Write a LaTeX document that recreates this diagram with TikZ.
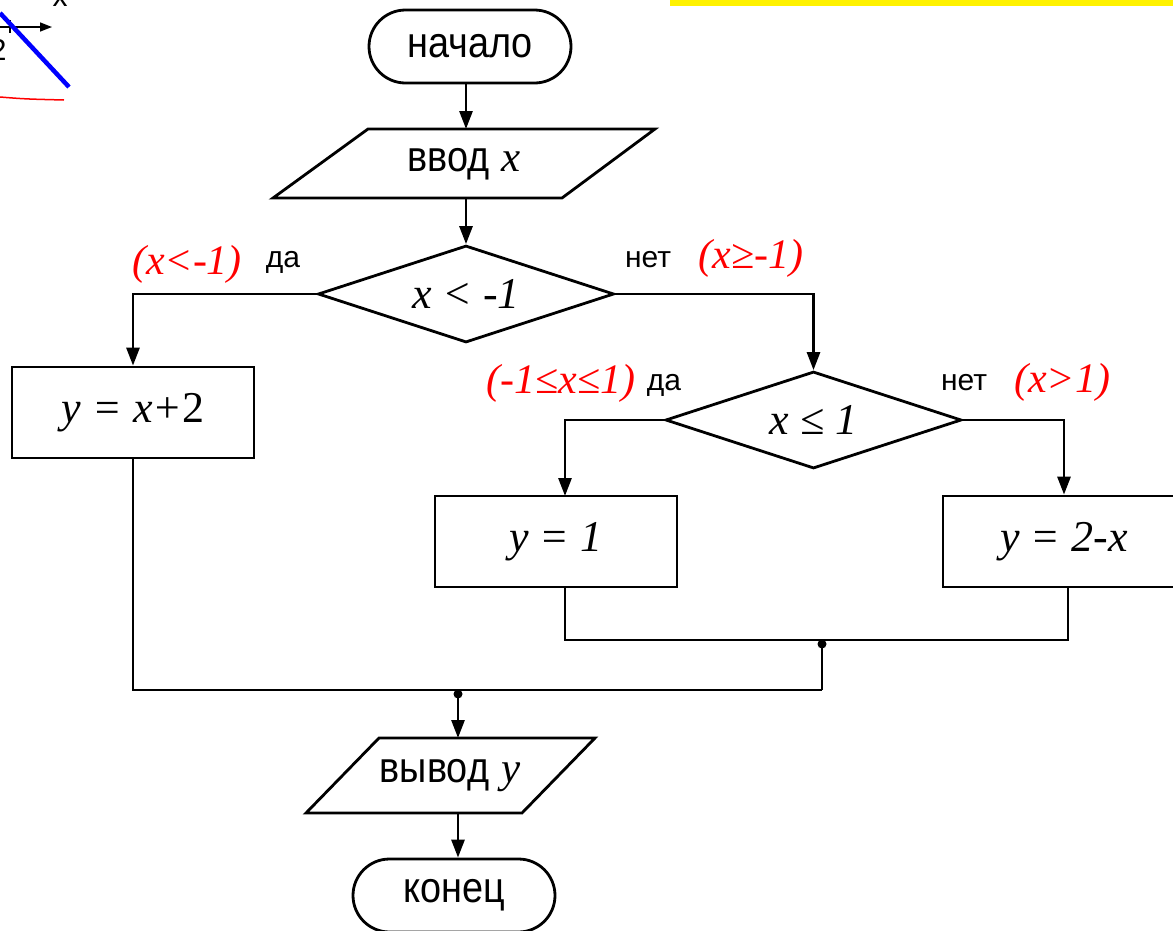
\documentclass[tikz,border=0pt]{standalone}
\usepackage{graphicx}
\usepackage{fontspec}
\setmainfont{Liberation Sans}
\newfontfamily\tms{Liberation Serif}
\usetikzlibrary{shapes.geometric,shapes.misc,arrows.meta}
\newcommand{\narrow}[1]{\scalebox{0.88}[1]{#1}}
\begin{document}
\begin{tikzpicture}[x=1pt,y=-1pt,
  line width=2.8pt,
  arr/.style={-{Triangle[length=18pt,width=13pt]}},
  term/.style={draw, rounded rectangle, minimum width=202pt, minimum height=73pt, inner sep=0pt, font=\fontsize{43}{50}\selectfont},
  proc/.style={draw, rectangle, minimum width=242pt, minimum height=91pt, inner sep=0pt, font=\fontsize{44}{52}\selectfont\tms\itshape},
  decis/.style={draw, diamond, aspect=3, minimum width=296pt, minimum height=97pt, inner sep=0pt, font=\fontsize{44}{52}\selectfont\tms\itshape},
  iotext/.style={inner sep=0pt, font=\fontsize{43}{50}\selectfont},
  lbl/.style={inner sep=0pt, font=\fontsize{30}{36}\selectfont},
  cond/.style={inner sep=0pt, text=red, font=\fontsize{42}{50}\selectfont\tms\itshape},
  jdot/.style={circle, fill, inner sep=0pt, minimum size=9pt}
]
\useasboundingbox (0,0) rectangle (1173,930);

% fragments at the edges
\fill[yellow] (670,0) rectangle (1173,6);
\draw[line width=1.5pt, -{Triangle[length=12pt,width=9pt]}] (0,27) -- (52,27);
\draw[line width=1.5pt] (10,20) -- (10,33);
\node[anchor=base, inner sep=0pt, font=\fontsize{30}{36}\selectfont] (fx) at (60,6) {x};
\node[anchor=base east, inner sep=0pt, font=\fontsize{30}{36}\selectfont] (f2) at (8,60) {2};
\draw[blue, line width=4.5pt] (0,13) -- (69,87);
\draw[red, line width=1.5pt] (0,97) .. controls (25,99) .. (64,100);

% nodes
\node[term] (start) at (470,46.5) {\narrow{начало}};
\coordinate (inTL) at (368,129);
\coordinate (inTR) at (655,129);
\coordinate (inBR) at (562,198);
\coordinate (inBL) at (273,198);
\coordinate (inTop) at (466,129);
\coordinate (inBot) at (466,198);
\draw[line join=miter] (inTL) -- (inTR) -- (inBR) -- (inBL) -- cycle;
\node[iotext] (in) at (464,164) {\narrow{ввод} {\tms\itshape x}};

\node[decis] (d1) at (466,294) {x < -1};
\node[proc] (b1) at (133,412.5) {y = x+\upshape 2};
\node[decis] (d2) at (813.5,420) {x ≤ 1};
\node[proc] (b2) at (556,541.5) {y = 1};
\node[proc] (b3) at (1064,541.5) {y = 2-x};

\coordinate (outTL) at (379,738);
\coordinate (outTR) at (595,738);
\coordinate (outBR) at (522,813);
\coordinate (outBL) at (306,813);
\coordinate (outTop) at (458,738);
\coordinate (outBot) at (458,813);
\draw[line join=miter] (outTL) -- (outTR) -- (outBR) -- (outBL) -- cycle;
\node[iotext] (out) at (450,776) {\narrow{вывод} {\tms\itshape y}};
\node[term] (end) at (454,895.5) {\narrow{конец}};

% labels
\node[cond] (c1) at (187,264) {(x<-1)};
\node[lbl] (l1) at (283,262) {да};
\node[lbl] (l2) at (648,260) {нет};
\node[cond] (c2) at (751,258) {(x≥-1)};
\node[cond] (c3) at (561,383) {(-1≤x≤1)};
\node[lbl] (l3) at (664,385) {да};
\node[lbl] (l4) at (964,383) {нет};
\node[cond] (c4) at (1062,382) {(x>1)};

% connectors
\draw[arr] (start.south -| inTop) -- (inTop);
\draw[arr] (inBot) -- (d1.north);
\draw[arr] (d1.west) -| (b1.north);
\draw[arr] (d1.east) -| (d2.north);
\coordinate (b2in) at (565,496);
\draw[arr] (d2.west) -| (b2in);
\draw[arr] (d2.east) -| (b3.north);

\coordinate (m1L) at (565,640);
\coordinate (m1R) at (1068,640);
\coordinate (J1) at (822,640);
\coordinate (m2R) at (822,690);
\coordinate (J2) at (458,690);
\draw[line join=miter] (b2.south -| m1L) -- (m1L) -- (m1R) -- (b3.south -| m1R);
\draw (J1) -- (m2R);
\draw[line join=miter] (b1.south) |- (m2R);
\draw[arr] (J2) -- (outTop);
\draw[arr] (outBot) -- (end.north -| outBot);
\node[jdot] (j1) at ([yshift=-4pt]J1) {};
\node[jdot] (j2) at ([yshift=-4pt]J2) {};
\end{tikzpicture}
\end{document}
